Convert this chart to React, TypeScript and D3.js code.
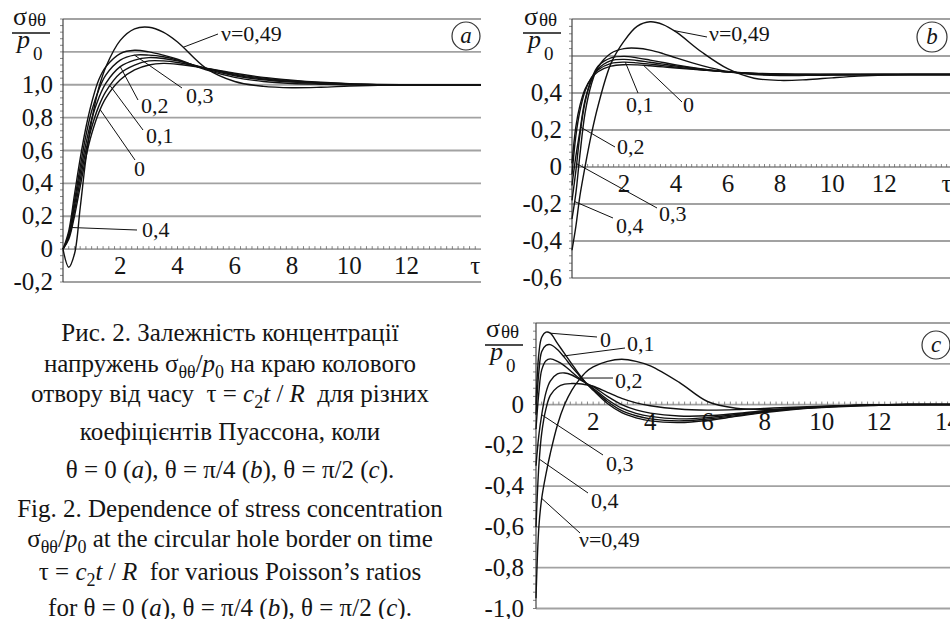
import React, { useEffect, useRef } from "react";
import * as d3 from "d3";

const FONT = "Liberation Serif, Times New Roman, serif";

// ---- panel (a): theta = 0 ----
const tauA = [0, 0.2, 0.4, 0.6, 0.8, 1, 1.25, 1.5, 2, 2.5, 3, 3.5, 4, 5, 6, 7, 8, 9, 10, 11, 12, 13, 14.6];
const a_nu0 = [0, 0.06, 0.2, 0.38, 0.56, 0.7, 0.83, 0.92, 1.03, 1.09, 1.12, 1.13, 1.125, 1.1, 1.07, 1.045, 1.028, 1.015, 1.006, 1.002, 1, 1, 1];
const a_nu1 = [0, 0.07, 0.23, 0.42, 0.6, 0.74, 0.87, 0.96, 1.07, 1.12, 1.145, 1.145, 1.135, 1.1, 1.065, 1.04, 1.024, 1.012, 1.005, 1.001, 1, 1, 1];
const a_nu2 = [0, 0.08, 0.26, 0.46, 0.64, 0.79, 0.92, 1.01, 1.11, 1.15, 1.165, 1.16, 1.145, 1.1, 1.06, 1.035, 1.02, 1.01, 1.004, 1.001, 1, 1, 1];
const a_nu3 = [0, 0.09, 0.29, 0.5, 0.69, 0.84, 0.97, 1.06, 1.15, 1.18, 1.18, 1.17, 1.15, 1.095, 1.055, 1.03, 1.016, 1.008, 1.003, 1, 1, 1, 1];
const a_nu4 = [0, 0.11, 0.33, 0.55, 0.74, 0.89, 1.03, 1.11, 1.19, 1.21, 1.2, 1.18, 1.155, 1.09, 1.045, 1.02, 1.008, 1.003, 1, 1, 1, 1, 1];
const a_nu49 = [0, -0.11, -0.03, 0.25, 0.55, 0.78, 0.98, 1.11, 1.27, 1.34, 1.35, 1.32, 1.26, 1.1, 1.02, 0.99, 0.982, 0.985, 0.992, 0.997, 1, 1, 1];

// ---- panel (b): theta = pi/4 ----
const tauB = [0, 0.15, 0.3, 0.5, 0.75, 1, 1.5, 2, 2.5, 3, 3.5, 4, 5, 6, 7, 8, 9, 10, 11, 12, 13, 14.8];
const b_nu0 = [0.02, 0.22, 0.33, 0.42, 0.48, 0.515, 0.545, 0.553, 0.552, 0.547, 0.541, 0.535, 0.524, 0.514, 0.507, 0.503, 0.501, 0.5, 0.5, 0.5, 0.5, 0.5];
const b_nu1 = [-0.04, 0.17, 0.3, 0.41, 0.485, 0.525, 0.56, 0.567, 0.563, 0.556, 0.548, 0.54, 0.526, 0.514, 0.506, 0.502, 0.5, 0.5, 0.5, 0.5, 0.5, 0.5];
const b_nu2 = [-0.1, 0.06, 0.19, 0.36, 0.47, 0.53, 0.575, 0.582, 0.576, 0.566, 0.556, 0.546, 0.528, 0.514, 0.505, 0.501, 0.5, 0.5, 0.5, 0.5, 0.5, 0.5];
const b_nu3 = [-0.18, -0.02, 0.17, 0.35, 0.475, 0.545, 0.59, 0.598, 0.59, 0.578, 0.565, 0.552, 0.53, 0.513, 0.503, 0.499, 0.499, 0.5, 0.5, 0.5, 0.5, 0.5];
const b_nu4 = [-0.28, -0.14, 0.06, 0.29, 0.45, 0.54, 0.615, 0.64, 0.642, 0.632, 0.613, 0.59, 0.548, 0.516, 0.5, 0.494, 0.495, 0.497, 0.499, 0.5, 0.5, 0.5];
const b_nu49 = [-0.45, -0.32, -0.16, 0, 0.18, 0.33, 0.56, 0.68, 0.76, 0.785, 0.77, 0.73, 0.62, 0.53, 0.48, 0.468, 0.472, 0.482, 0.491, 0.497, 0.5, 0.5];

// ---- panel (c): theta = pi/2 ----
const tauC = [0, 0.1, 0.2, 0.35, 0.5, 0.75, 1, 1.25, 1.5, 1.75, 2, 2.5, 3, 3.5, 4, 5, 6, 7, 8, 9, 10, 11, 12, 13, 14.8];
const c_nu0 = [0, 0.25, 0.33, 0.355, 0.35, 0.3, 0.25, 0.2, 0.15, 0.105, 0.07, 0.005, -0.04, -0.065, -0.08, -0.088, -0.078, -0.058, -0.039, -0.024, -0.013, -0.006, -0.002, 0, 0];
const c_nu1 = [-0.05, 0.16, 0.26, 0.29, 0.294, 0.27, 0.23, 0.185, 0.145, 0.105, 0.075, 0.015, -0.03, -0.055, -0.07, -0.08, -0.071, -0.054, -0.036, -0.022, -0.012, -0.005, -0.002, 0, 0];
const c_nu2 = [-0.12, 0.06, 0.17, 0.215, 0.224, 0.212, 0.19, 0.16, 0.13, 0.105, 0.08, 0.025, -0.018, -0.043, -0.058, -0.07, -0.064, -0.049, -0.033, -0.02, -0.011, -0.005, -0.001, 0, 0];
const c_nu3 = [-0.3, -0.15, -0.05, 0.06, 0.115, 0.15, 0.155, 0.145, 0.125, 0.105, 0.088, 0.04, 0, -0.026, -0.042, -0.056, -0.055, -0.044, -0.03, -0.018, -0.01, -0.004, -0.001, 0, 0];
const c_nu4 = [-0.6, -0.3, -0.14, -0.02, 0.045, 0.085, 0.1, 0.103, 0.102, 0.097, 0.09, 0.06, 0.03, 0.008, -0.006, -0.022, -0.027, -0.025, -0.019, -0.013, -0.008, -0.004, -0.001, 0, 0];
const c_nu49 = [-0.95, -0.6, -0.46, -0.34, -0.24, -0.1, 0, 0.07, 0.12, 0.16, 0.185, 0.212, 0.222, 0.212, 0.19, 0.11, 0.015, -0.018, -0.024, -0.02, -0.014, -0.008, -0.003, -0.001, 0];

const xTickLabels = [2, 4, 6, 8, 10, 12];

const panels = [
  {
    id: "a",
    tau: tauA,
    series: [a_nu0, a_nu1, a_nu2, a_nu3, a_nu4, a_nu49],
    xDomain: [0, 14.6], xRange: [63, 481],
    yDomain: [-0.2, 1.4], yRange: [282, 19],
    yLabels: [-0.2, 0, 0.2, 0.4, 0.6, 0.8, 1.0],
    lastLabel: "τ",
    frac: [13, 33],
    badge: [466, 36, 14],
    leaders: [
      { s: 5, tau: 4.2, x2: 218, y2: 34, text: "ν=0,49", tx: 221, ty: 41 },
      { s: 3, tau: 2.5, x2: 182, y2: 88, text: "0,3", tx: 186, ty: 103 },
      { s: 2, tau: 2.0, x2: 138, y2: 100, text: "0,2", tx: 141, ty: 113 },
      { s: 1, tau: 1.65, x2: 143, y2: 130, text: "0,1", tx: 146, ty: 143 },
      { s: 0, tau: 1.3, x2: 135, y2: 160, text: "0", tx: 134, ty: 176 },
      { s: 4, tau: 0.22, x2: 137, y2: 230, text: "0,4", tx: 142, ty: 237 },
    ],
  },
  {
    id: "b",
    tau: tauB,
    series: [b_nu0, b_nu1, b_nu2, b_nu3, b_nu4, b_nu49],
    xDomain: [0, 14.8], xRange: [572, 957],
    yDomain: [-0.6, 0.8], yRange: [278, 19],
    yLabels: [-0.6, -0.4, -0.2, 0, 0.2, 0.4],
    lastLabel: "τ",
    frac: [524, 33],
    badge: [932, 37, 15],
    leaders: [
      { s: 5, tau: 3.9, x2: 707, y2: 37, text: "ν=0,49", tx: 709, ty: 41 },
      { s: 1, tau: 2.05, x2: 638, y2: 93, text: "0,1", tx: 626, ty: 112 },
      { s: 0, tau: 2.75, x2: 682, y2: 102, text: "0", tx: 683, ty: 112 },
      { s: 2, tau: 0.33, x2: 615, y2: 147, text: "0,2", tx: 617, ty: 154 },
      { s: 3, tau: 0.18, x2: 657, y2: 208, text: "0,3", tx: 659, ty: 221 },
      { s: 4, tau: 0.1, x2: 613, y2: 218, text: "0,4", tx: 616, ty: 233 },
    ],
  },
  {
    id: "c",
    tau: tauC,
    series: [c_nu0, c_nu1, c_nu2, c_nu3, c_nu4, c_nu49],
    xDomain: [0, 14.8], xRange: [536, 959],
    yDomain: [-1.0, 0.4], yRange: [608.5, 323],
    yLabels: [-1.0, -0.8, -0.6, -0.4, -0.2, 0],
    lastLabel: "14",
    frac: [486, 345],
    badge: [936, 345, 14],
    leaders: [
      { s: 0, tau: 0.5, x2: 597, y2: 337, text: "0", tx: 600, ty: 347 },
      { s: 1, tau: 0.95, x2: 625, y2: 348, text: "0,1", tx: 627, ty: 351 },
      { s: 2, tau: 1.5, x2: 613, y2: 378, text: "0,2", tx: 615, ty: 388 },
      { s: 3, tau: 0.2, x2: 603, y2: 455, text: "0,3", tx: 606, ty: 471 },
      { s: 4, tau: 0.12, x2: 588, y2: 493, text: "0,4", tx: 591, ty: 508 },
      { s: 5, tau: 0.2, x2: 580, y2: 533, text: "ν=0,49", tx: 579, ty: 547 },
    ],
  },
];

const captionLines = [
  [{ t: "Рис. 2. Залежність концентрації" }],
  [{ t: "напружень σ" }, { t: "θθ", sub: true }, { t: "/" }, { t: "p", i: true }, { t: "0", sub: true }, { t: " на краю колового" }],
  [{ t: "отвору від часу  τ = " }, { t: "c", i: true }, { t: "2", sub: true }, { t: "t", i: true }, { t: " / " }, { t: "R", i: true }, { t: "  для різних" }],
  [{ t: "коефіцієнтів Пуассона, коли" }],
  [{ t: "θ = 0 (" }, { t: "a", i: true }, { t: "), θ = π/4 (" }, { t: "b", i: true }, { t: "), θ = π/2 (" }, { t: "c", i: true }, { t: ")." }],
  [{ t: "Fig. 2. Dependence of stress concentration" }],
  [{ t: "σ" }, { t: "θθ", sub: true }, { t: "/" }, { t: "p", i: true }, { t: "0", sub: true }, { t: " at the circular hole border on time" }],
  [{ t: "τ = " }, { t: "c", i: true }, { t: "2", sub: true }, { t: "t", i: true }, { t: " / " }, { t: "R", i: true }, { t: "  for various Poisson’s ratios" }],
  [{ t: "for θ = 0 (" }, { t: "a", i: true }, { t: "), θ = π/4 (" }, { t: "b", i: true }, { t: "), θ = π/2 (" }, { t: "c", i: true }, { t: ")." }],
];
const captionBaselines = [341, 372, 402, 440, 478, 517, 547, 580, 616];

const fmt = (v: number) => {
  if (Math.abs(v) < 1e-9) return "0";
  return (v < 0 ? "-" : "") + Math.abs(v).toFixed(1).replace(".", ",");
};

function richText(sel: any, segs: any[], size: number) {
  let shift = 0;
  segs.forEach((s) => {
    const target = s.sub ? Math.round(size * 0.25) : 0;
    sel
      .append("tspan")
      .attr("dy", target - shift)
      .attr("font-style", s.i ? "italic" : "normal")
      .attr("font-size", s.sub ? size * 0.72 : size)
      .text(s.t);
    shift = target;
  });
}

function label(g: any, x: number, y: number, txt: string, size = 22, anchor = "start", italic = false) {
  return g
    .append("text")
    .attr("x", x)
    .attr("y", y)
    .attr("text-anchor", anchor)
    .attr("font-family", FONT)
    .attr("font-size", size)
    .attr("font-style", italic ? "italic" : "normal")
    .attr("fill", "#151515")
    .text(txt);
}

function drawPanel(svg: any, p: any) {
  const x = d3.scaleLinear().domain(p.xDomain).range(p.xRange);
  const y = d3.scaleLinear().domain(p.yDomain).range(p.yRange);
  const g = svg.append("g").attr("class", "panel-" + p.id);
  const [x0, x1] = p.xRange;

  // grid lines every 0.2
  const grid = d3.range(p.yDomain[0], p.yDomain[1] + 0.001, 0.2);
  g.selectAll(".grid")
    .data(grid)
    .enter()
    .append("line")
    .attr("x1", x0)
    .attr("x2", x1)
    .attr("y1", (d: number) => y(d))
    .attr("y2", (d: number) => y(d))
    .attr("stroke", "#a2a2a2")
    .attr("stroke-width", 1.8);

  // minor ticks on the y axis
  const minor = d3.range(p.yDomain[0], p.yDomain[1] + 0.001, 0.04);
  g.selectAll(".ytick")
    .data(minor)
    .enter()
    .append("line")
    .attr("x1", x0 - 3)
    .attr("x2", x0)
    .attr("y1", (d: number) => y(d))
    .attr("y2", (d: number) => y(d))
    .attr("stroke", "#666")
    .attr("stroke-width", 0.8);

  // minor ticks on the zero line
  const xminor = d3.range(0.2, p.xDomain[1], 0.2);
  g.selectAll(".xtick")
    .data(xminor)
    .enter()
    .append("line")
    .attr("x1", (d: number) => x(d))
    .attr("x2", (d: number) => x(d))
    .attr("y1", y(0) - 3)
    .attr("y2", y(0))
    .attr("stroke", "#666")
    .attr("stroke-width", 0.8);

  // y axis
  g.append("line")
    .attr("x1", x0)
    .attr("x2", x0)
    .attr("y1", p.yRange[0])
    .attr("y2", p.yRange[1])
    .attr("stroke", "#444")
    .attr("stroke-width", 1.2);

  const labOff = p.id === "c" ? 12 : 10;
  p.yLabels.forEach((d: number) => label(g, x0 - labOff, y(d) + 8, fmt(d), 25, "end"));
  xTickLabels.forEach((d) => label(g, x(d), y(0) + 25, String(d), 25, "middle"));
  label(g, x(14.4), y(0) + 25, p.lastLabel, 25, "middle");

  // curves
  const line = d3
    .line<[number, number]>()
    .x((d) => x(d[0]))
    .y((d) => y(d[1]))
    .curve(d3.curveCatmullRom.alpha(0.5));

  p.series.forEach((vals: number[]) => {
    g.append("path")
      .attr("d", line(p.tau.map((t: number, i: number) => [t, vals[i]])))
      .attr("fill", "none")
      .attr("stroke", "#111")
      .attr("stroke-width", 1.4);
  });

  // leaders and labels
  p.leaders.forEach((l: any) => {
    const interp = d3.scaleLinear().domain(p.tau).range(p.series[l.s]);
    g.append("line")
      .attr("x1", x(l.tau))
      .attr("y1", y(interp(l.tau)))
      .attr("x2", l.x2)
      .attr("y2", l.y2)
      .attr("stroke", "#111")
      .attr("stroke-width", 1);
    label(g, l.tx, l.ty, l.text, 22);
  });

  // sigma/p0 fraction
  const [fx, fy] = p.frac;
  label(g, fx, fy - 8, "σ", 26);
  label(g, fx + 15, fy - 7, "θθ", 19);
  g.append("line")
    .attr("x1", fx - 1)
    .attr("x2", fx + 37)
    .attr("y1", fy)
    .attr("y2", fy)
    .attr("stroke", "#111")
    .attr("stroke-width", 1.3);
  label(g, fx + 4, fy + 15, "p", 26, "start", true);
  label(g, fx + 20, fy + 27, "0", 19);

  // panel letter badge
  const [bx, by, br] = p.badge;
  g.append("circle")
    .attr("cx", bx)
    .attr("cy", by)
    .attr("r", br)
    .attr("fill", "white")
    .attr("stroke", "#333")
    .attr("stroke-width", 1.2);
  label(g, bx, by + 7, p.id, 23, "middle", true);
}

export default function App() {
  const ref = useRef<SVGSVGElement>(null);

  useEffect(() => {
    const svg = d3.select(ref.current);
    svg.selectAll("*").remove();

    panels.forEach((p) => drawPanel(svg, p));

    const cap = svg.append("g");
    captionLines.forEach((segs, i) => {
      const t = cap
        .append("text")
        .attr("x", 230)
        .attr("y", captionBaselines[i])
        .attr("text-anchor", "middle")
        .attr("font-family", FONT)
        .attr("fill", "#151515")
        .style("white-space", "pre");
      richText(t, segs, 25);
    });
  }, []);

  return (
    <svg
      ref={ref}
      width={950}
      height={619}
      fontFamily={FONT}
      style={{ position: "absolute", left: 0, top: 0, background: "white" }}
    ></svg>
  );
}
